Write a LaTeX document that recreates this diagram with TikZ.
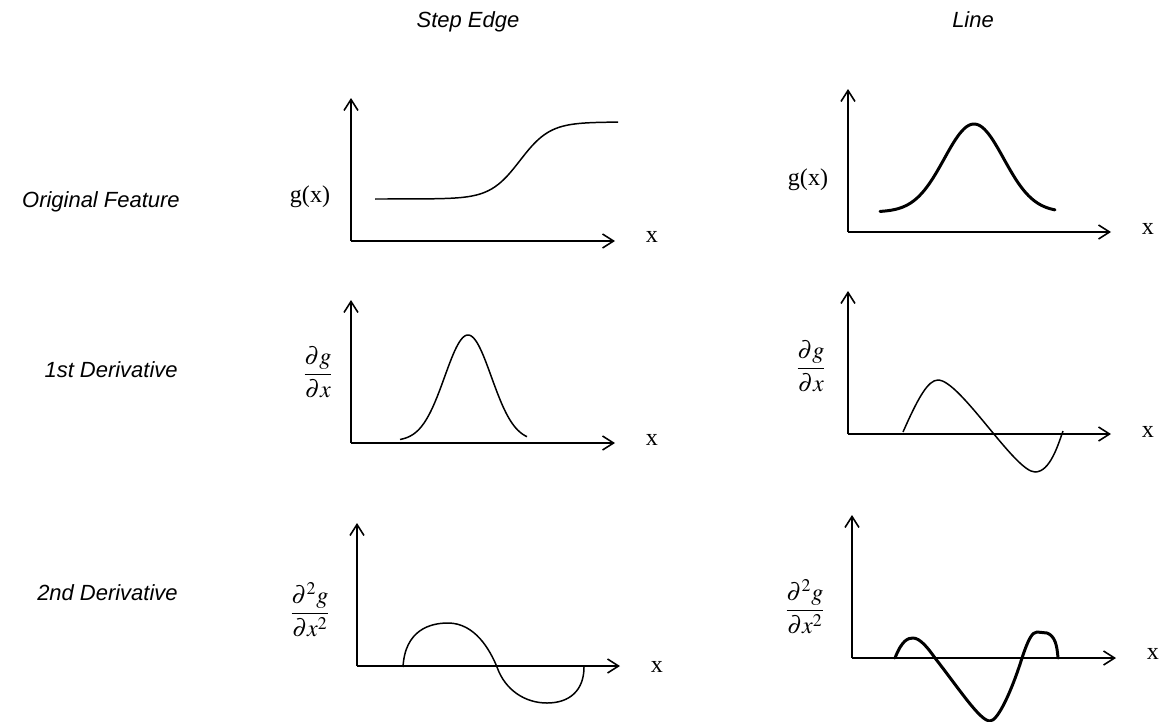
\documentclass[tikz,border=0pt]{standalone}
\usepackage{amsmath}
\usepackage{mathptmx}
\usepackage{fontspec}
\setmainfont{Liberation Serif}
\newfontfamily\labelfont{Liberation Sans}
\usetikzlibrary{arrows.meta}

\begin{document}
\begin{tikzpicture}[x=0.02cm, y=-0.02cm, every node/.style={inner sep=0pt}]
\tikzset{axis/.style={-{Straight Barb[length=2.2mm, width=2.8mm]}, line width=0.9pt}}
\tikzset{curve/.style={line width=0.85pt, line join=round}}
\tikzset{boldcurve/.style={line width=1.7pt, line join=round, line cap=round}}
\tikzset{head/.style={font=\labelfont\itshape\fontsize{12.5}{15}\selectfont}}
\tikzset{sym/.style={font=\fontsize{13.7}{16}\selectfont}}
\useasboundingbox (0,0) rectangle (1166,721);

% column and row titles
\node[head, anchor=base] (hstep) at (468,27) {Step Edge};
\node[head, anchor=base] (hline) at (973,27) {Line};
\node[head, anchor=base east] (rorig) at (180,207) {Original Feature};
\node[head, anchor=base east] (rfirst) at (178,377) {1st Derivative};
\node[head, anchor=base east] (rsecond) at (178,600) {2nd Derivative};

% axes of the six plots
\foreach \n/\ox/\oy/\w in {a/351/241/264, b/848/232/263, c/351/443/264,
                           d/848/434/263, e/357/666/263, f/852/658/264} {
  \coordinate (o\n) at (\ox,\oy);
  \coordinate (t\n) at (\ox,\oy-143);
  \coordinate (r\n) at (\ox+\w,\oy);
  \draw[axis] (o\n) -- (t\n);
  \draw[axis] (o\n) -- (r\n);
}

% axis labels
\node[sym] (ya) at (310,197) {g(x)};
\node[sym] (yb) at (808,180) {g(x)};
\node[sym] (yc) at (318,372) {$\dfrac{\partial g}{\partial x}$};
\node[sym] (yd) at (811,366) {$\dfrac{\partial g}{\partial x}$};
\node[sym] (ye) at (310,610) {$\dfrac{\partial^2 g}{\partial x^2}$};
\node[sym] (yf) at (805,607) {$\dfrac{\partial^2 g}{\partial x^2}$};
\node[sym] (xa) at (652,237) {x};
\node[sym] (xb) at (1148,229) {x};
\node[sym] (xc) at (652,440) {x};
\node[sym] (xd) at (1148,432) {x};
\node[sym] (xe) at (657,667) {x};
\node[sym] (xf) at (1153,654) {x};

% curves
\draw[curve] plot[domain=375:618, samples=80] (\x, {160.5-38.5*tanh((\x-520)/30)});
\draw[boldcurve] plot[domain=880:1055, samples=80] (\x, {212-88*exp(-pow((\x-974)/42,2))});
\draw[curve] plot[domain=400:527, samples=80] (\x, {441-106*exp(-pow((\x-468)/33,2))});
\draw[curve] (903,432) .. controls (918,398) and (928,380) .. (938,380)
  .. controls (960,380) and (1015,472) .. (1035,472)
  .. controls (1050,472) and (1058,445) .. (1063,431);
\draw[curve] (403,667) .. controls (405,630) and (430,623) .. (448,623)
  .. controls (475,623) and (490,650) .. (497,667)
  .. controls (505,690) and (525,703) .. (547,703)
  .. controls (570,703) and (584,690) .. (584,667);
\draw[boldcurve] (895,658) .. controls (902,640) and (908,638) .. (913,638)
  .. controls (920,638) and (928,648) .. (935,658)
  .. controls (960,690) and (980,721) .. (990,721)
  .. controls (998,721) and (1012,690) .. (1022,658)
  .. controls (1028,640) and (1032,632) .. (1037,632) -- (1047,633)
  .. controls (1055,636) and (1057,645) .. (1058,658);
\end{tikzpicture}
\end{document}
